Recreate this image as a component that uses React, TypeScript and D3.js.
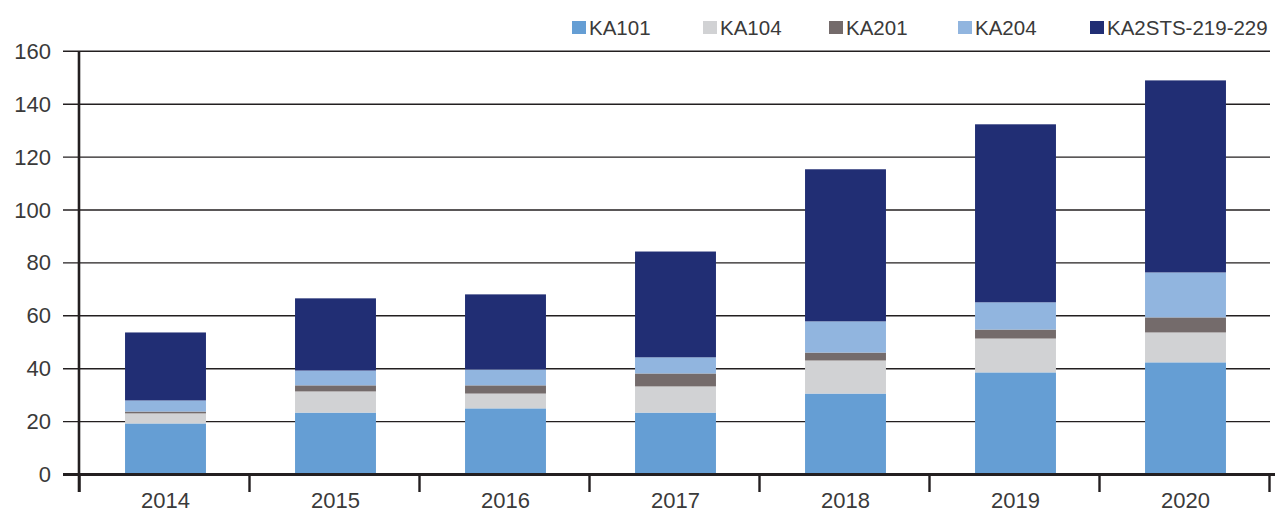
import React from "react";
import * as d3 from "d3";

const years = ["2014", "2015", "2016", "2017", "2018", "2019", "2020"];
const seriesNames = ["KA101", "KA104", "KA201", "KA204", "KA2STS-219-229"];
const ka101 = [19.3, 23.4, 25.0, 23.4, 30.6, 38.6, 42.4];
const ka104 = [3.8, 8.0, 5.6, 9.9, 12.5, 12.8, 11.3];
const ka201 = [0.7, 2.3, 3.1, 4.9, 3.0, 3.4, 5.7];
const ka204 = [4.2, 5.6, 6.0, 6.1, 11.8, 10.3, 17.0];
const ka2sts = [25.7, 27.3, 28.4, 40.0, 57.5, 67.3, 72.6];
const colors = ["#659ed4", "#d1d2d4", "#746b6b", "#91b5df", "#212e74"];
const yTicks = [0, 20, 40, 60, 80, 100, 120, 140, 160];

const W = 1275;
const H = 511;
const FONT = "'Liberation Sans', Arial, Helvetica, sans-serif";
const INK = "#231f20";
const TEXT = "#3a3a3a";

export default function App() {
  const rows = years.map((y, i) => ({
    year: y,
    KA101: ka101[i],
    KA104: ka104[i],
    KA201: ka201[i],
    KA204: ka204[i],
    "KA2STS-219-229": ka2sts[i],
  }));
  const stacked = d3.stack<any>().keys(seriesNames)(rows);

  const x = d3
    .scaleBand<string>()
    .domain(years)
    .range([79.5, 1269.5])
    .paddingInner(0.524)
    .paddingOuter(0.262);
  const y = d3.scaleLinear().domain([0, 160]).range([474.5, 51.3]);
  const step = x.step();
  const x0 = 79.5;

  const legendX = [572, 703, 829, 958, 1090];

  return (
    <svg
      width={W}
      height={H}
      style={{ position: "absolute", left: 0, top: 0, background: "#fff" }}
      fontFamily={FONT}
    >
      {yTicks.map((t) => (
        <line
          key={"g" + t}
          x1={63}
          x2={1270}
          y1={y(t)}
          y2={y(t)}
          stroke={INK}
          strokeWidth={1.4}
        />
      ))}
      {stacked.map((s, si) => (
        <g key={s.key} fill={colors[si]}>
          {s.map((d: any, i: number) => (
            <rect
              key={i}
              x={(x(years[i]) as number) + 1}
              width={x.bandwidth()}
              y={y(d[1])}
              height={y(d[0]) - y(d[1])}
            />
          ))}
        </g>
      ))}
      <line x1={79} x2={79} y1={51} y2={492} stroke={INK} strokeWidth={2.6} />
      {yTicks.map((t) => (
        <text
          key={"yl" + t}
          x={51}
          y={y(t)}
          textAnchor="end"
          dominantBaseline="central"
          fontSize={22}
          fill={TEXT}
        >
          {t}
        </text>
      ))}
      <line x1={63} x2={1275} y1={474.5} y2={474.5} stroke={INK} strokeWidth={3} />
      {d3.range(years.length + 1).map((i) => (
        <line
          key={"xt" + i}
          x1={x0 + i * step}
          x2={x0 + i * step}
          y1={474}
          y2={492}
          stroke={INK}
          strokeWidth={2.4}
        />
      ))}
      {years.map((yr) => (
        <text
          key={"xl" + yr}
          x={(x(yr) as number) + x.bandwidth() / 2 + 1}
          y={500}
          textAnchor="middle"
          dominantBaseline="central"
          fontSize={22}
          fill={TEXT}
        >
          {yr}
        </text>
      ))}
      {seriesNames.map((n, i) => (
        <g key={"lg" + n}>
          <rect x={legendX[i]} y={21} width={14} height={13} fill={colors[i]} />
          <text
            x={legendX[i] + 17}
            y={27.5}
            dominantBaseline="central"
            fontSize={20.5}
            fill={TEXT}
          >
            {n}
          </text>
        </g>
      ))}
    </svg>
  );
}
